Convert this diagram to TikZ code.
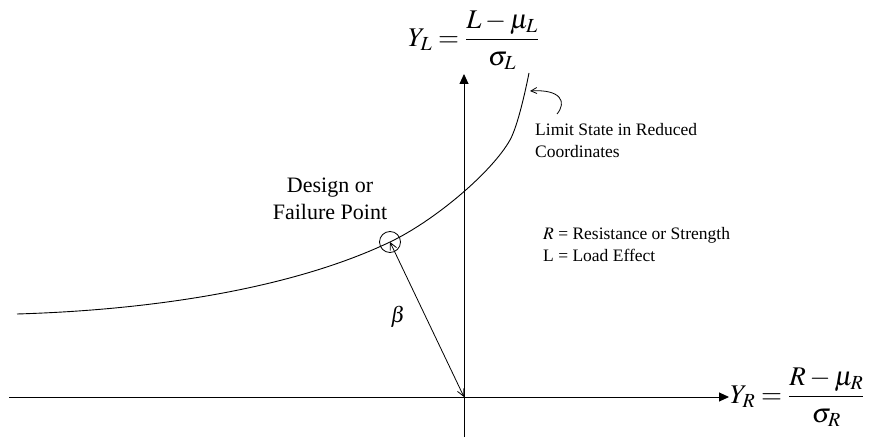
\documentclass[tikz,border=0pt]{standalone}
\usepackage{mathptmx}
\usepackage{fontspec}
\setmainfont{Liberation Serif}
\usetikzlibrary{arrows.meta}
\begin{document}
\begin{tikzpicture}[x=1pt,y=-1pt,
  axis/.style={line width=0.9pt,-{Triangle[length=10pt,width=9pt]}},
  curveline/.style={line width=0.9pt},
  barb/.style={line width=0.8pt,{Straight Barb[length=7pt,width=7pt]}-{Straight Barb[length=7pt,width=7pt]}},
  note/.style={line width=0.8pt,-{Straight Barb[length=6pt,width=6pt]}},
  lab/.style={inner sep=0pt,anchor=base west},
  labc/.style={inner sep=0pt,anchor=base},
  f17/.style={font=\fontsize{17.5}{21}\selectfont},
  f22/.style={font=\fontsize{22}{26}\selectfont},
  f27/.style={font=\fontsize{27}{32}\selectfont}]
\useasboundingbox (0,0) rectangle (869,438);
\coordinate (O) at (464,397);
\coordinate (xl) at (9,397);
\coordinate (xr) at (729,397);
\coordinate (yb) at (464,437);
\coordinate (yt) at (464,74);
\draw[axis] (xl) -- (xr);
\draw[axis] (yb) -- (yt);
\coordinate (c0) at (17,314);
\coordinate (c1) at (390,242);
\coordinate (c2) at (510,140);
\coordinate (c3) at (529,73);
\draw[curveline] (c0) .. controls (167,309.5) and (300,285) .. (c1)
  .. controls (435,220.5) and (492,172) .. (c2)
  .. controls (518,125.6) and (526,88) .. (c3);
\node[circle,draw,line width=0.8pt,minimum size=21pt,inner sep=0pt] (dp) at (c1) {};
\draw[barb] (O) -- (dp.center);
\node[f22] (beta) at (398,317) {$\beta$};
\coordinate (an0) at (557,114);
\coordinate (an1) at (530,91);
\draw[note] (an0) .. controls (567,102) and (561,89) .. (an1);
\node[lab,f17] (ls1) at (535,136) {Limit State in Reduced};
\node[lab,f17] (ls2) at (535,158) {Coordinates};
\node[labc,f22] (dp1) at (330,193) {Design or};
\node[labc,f22] (dp2) at (330,219) {Failure Point};
\node[lab,f17] (r1) at (543,240) {$R$ = Resistance or Strength};
\node[lab,f17] (r2) at (543,261) {L = Load Effect};
\node[anchor=west,inner sep=0pt,f27] (yl) at (408,40) {$Y_L=\displaystyle\frac{L-\mu_L}{\sigma_L}$};
\node[anchor=west,inner sep=1pt,f27] (yr) at (xr) {$Y_R=\displaystyle\frac{R-\mu_R}{\sigma_R}$};
\end{tikzpicture}
\end{document}
